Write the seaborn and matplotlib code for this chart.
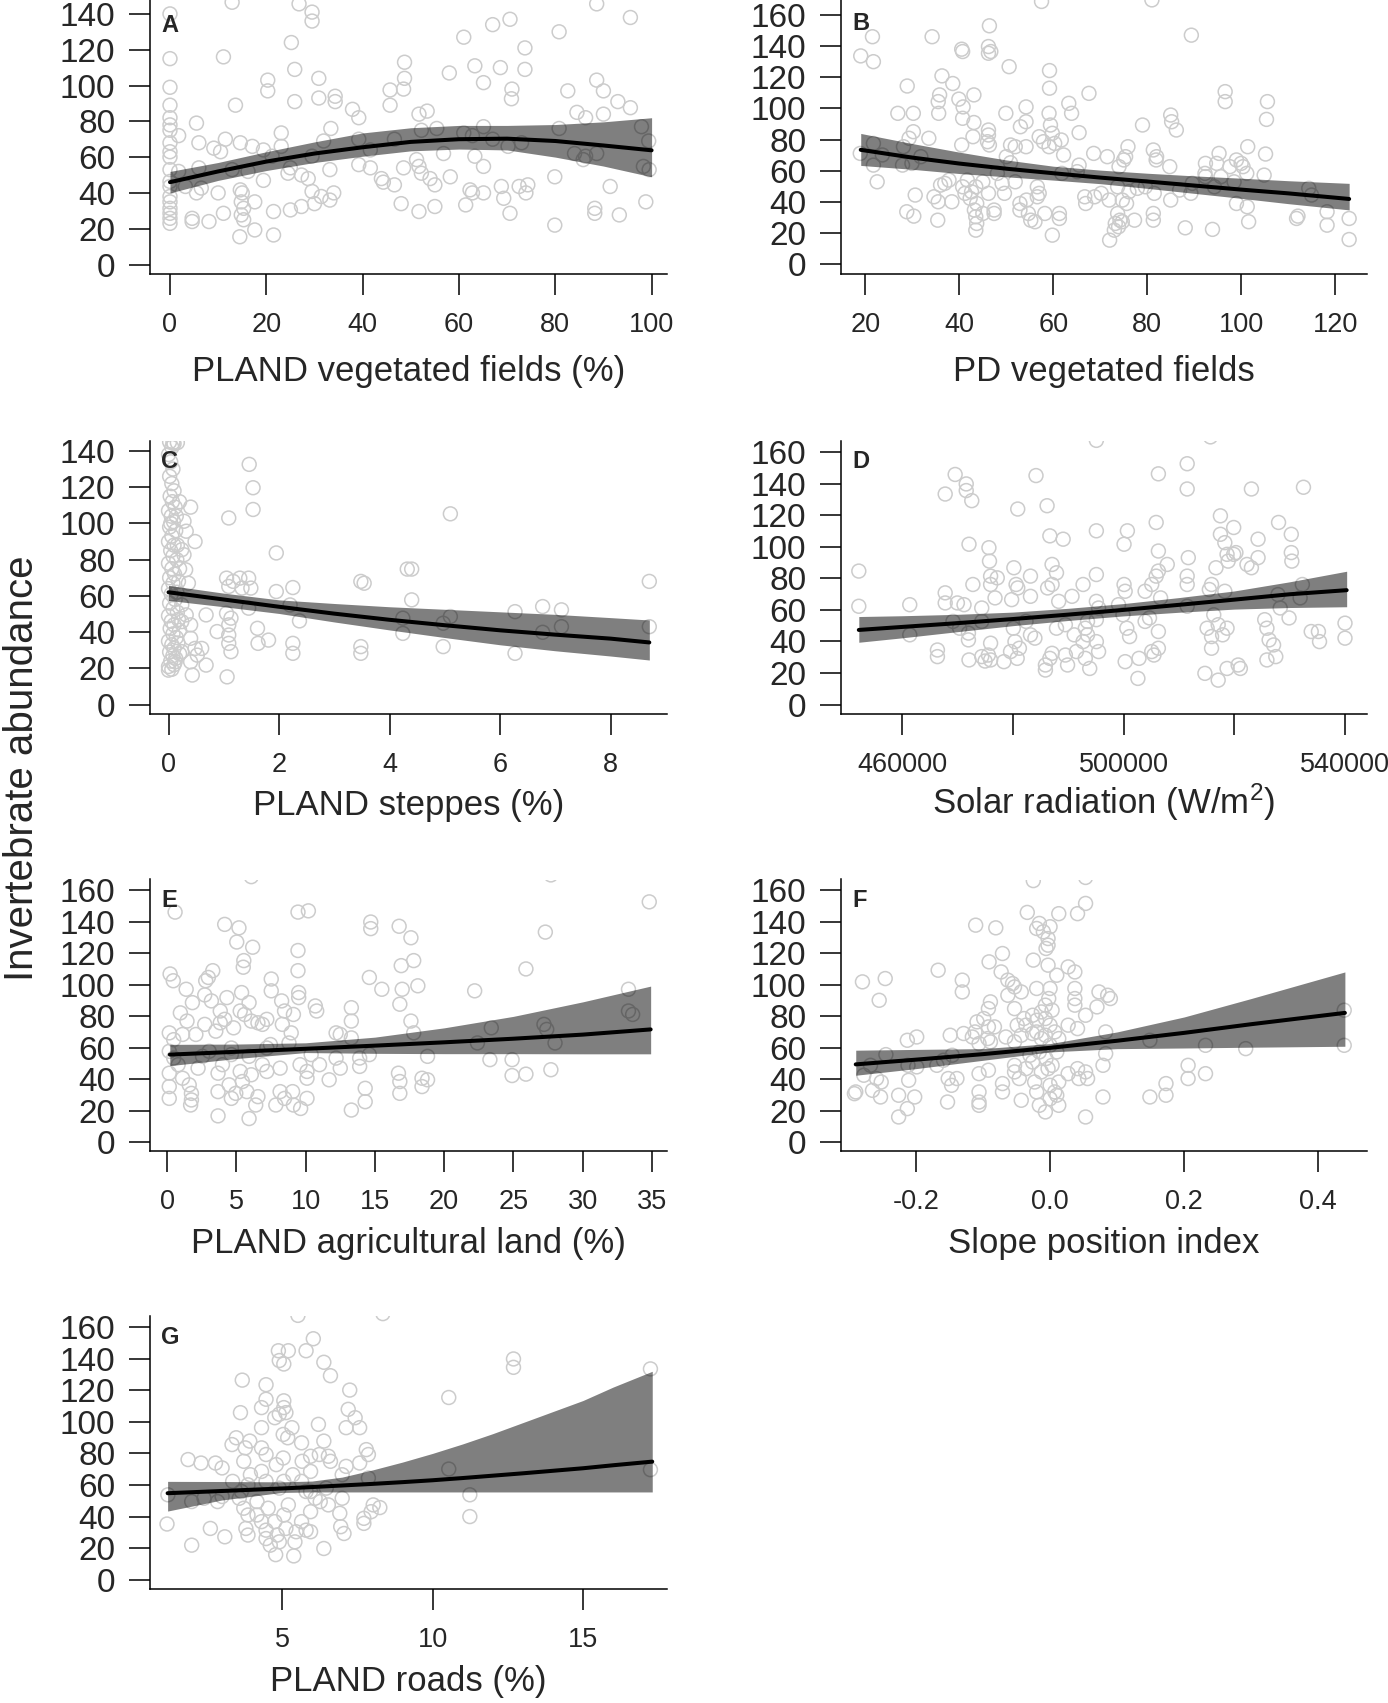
import matplotlib
matplotlib.use("Agg")
import matplotlib.pyplot as plt
import seaborn as sns

# ---------------- data ----------------
# A: PLAND vegetated fields (%)
a_pts = [(12.9,146.5),(26.8,145.6),(88.6,145.6),(0,140),(29.5,141),(29.5,136),(70.6,137),(67,134),(95.6,138),
         (80.8,130),(61,127),(25.2,124),(73.7,121),(11.1,116),(0,115),(63.3,111),(68.6,110),(73.7,109),(25.9,109),
         (48.7,113),(48.7,104),(58,107),(30.9,104),(20.3,103),(0,99),(65.1,101.6),(88.6,103),(20.3,97),(45.7,97.5),
         (48.5,98),(71,98),(70.9,92.6),(82.6,97),(90,97),(30.9,93),(34.3,94),(34.3,91),(25.9,91),(13.6,89),(0,89),
         (45.7,89),(93,91),(95.6,87.6),(37.9,86.7),(39.2,82),(51.7,84),(53.4,85.7),(84.5,85),(86.3,82),(90,84),
         (0,82),(0,78),(0,75),(5.5,79),(33.4,76),(65.1,77),(80.8,76),(97.9,77),(1.8,72),(23.1,73.5),(52.2,75),
         (55.4,76),(61,73.5),(62.8,72),(67,70),(46.6,70),(39.2,70),(31.9,69),(11.5,70),(14.6,68),(17.1,66),(6,68),
         (9.1,65),(10.5,63),(19.4,64),(23.1,66),(70.2,66),(73,68),(99.4,69),(0,68),(0,63),(0,60),(21.2,60.5),
         (29.5,60.5),(41.6,64),(51.2,58.6),(56.8,62),(63.3,60.5),(84,62),(86.3,60.5),(88.6,62),(85.8,58.6),
         (65.1,54.8),(51.7,54.8),(39.2,55.8),(41.6,54),(48.5,54),(52.2,51),(98.3,54.8),(99.5,53),(0,53),(1.8,52),
         (6,54),(12.9,53),(19.4,47),(24.5,51),(27.3,50),(28.7,48),(33.2,53),(25,54),(16.2,52),(43.9,48),(44.3,46),
         (46.6,44.5),(55,44.5),(58.2,49),(79.9,49),(54,48),(0,46.4),(0,43.6),(3.2,43.6),(6.5,42.7),(10,40),(5.5,40),
         (14.6,41.7),(29.5,40.8),(31.4,38),(34,40),(62.3,41.7),(62.8,40),(65.1,40),(68.8,43.6),(72.5,43.6),
         (74.3,44.5),(73.9,40),(91.4,43.6),(69.3,37),(0,38),(0,35),(0,31.4),(0,28.6),(0,25.8),(0,23),(15,40),
         (14.8,35),(15.3,31.4),(14.8,27.7),(15.3,25),(11.1,28.6),(17.6,35),(30,34),(27.3,32.4),(25,30.5),
         (21.5,29.6),(33.2,36),(48,34),(51.7,29.6),(55,32.4),(61.4,33.3),(70.6,28.6),(88.2,31.4),(88.2,28.6),
         (93.3,27.7),(98.8,35),(4.6,24),(8.1,24),(17.6,19.3),(14.5,15.5),(21.5,16.5),(79.9,22),(4.6,25.8)]
a_fx = [0, 10, 20, 30, 40, 50, 60, 70, 80, 90, 100]
a_fit = [46, 52, 57.5, 62, 65.5, 68.5, 70, 70.3, 69, 66.5, 63.8]
a_lo = [40, 47, 52.5, 57, 60.5, 63.5, 64.5, 64, 60, 55, 49]
a_hi = [52, 57, 63, 68.5, 73.5, 76.4, 77.7, 77.7, 78.2, 79.7, 82]

# B: PD vegetated fields
b_pts = [(57.5,168.6),(81,169.6),(19,133.7),(21.5,146),(21.7,130),(46.4,153),(34.2,146),(40.5,138),(40.7,136.5),
         (46.2,139.7),(46.7,136.5),(46.2,135.4),(50.6,126.8),(89.4,147),(36.3,120.9),(38.6,116),(28.9,114.4),
         (59.2,124.3),(59.2,113),(67.6,109.7),(35.8,108.7),(35.5,104.4),(43.1,108.7),(39.9,106),(96.6,110.8),
         (96.6,104.4),(105.6,104.4),(105.4,93),(26.9,96.9),(30.2,96.9),(35.6,96.9),(40.8,101),(40.7,93.7),
         (43.1,91),(49.9,96.9),(54.2,101),(54.2,91.5),(53,88.3),(59.1,96.9),(59.4,89.4),(63.3,103.3),(63.9,96.9),
         (65.5,84.5),(79,89.4),(85,95.8),(85.2,91.5),(86.2,86.2),(30.2,85.1),(33.5,80.9),(29.3,80.9),(46.2,86.2),
         (46.2,83),(42.9,81.9),(59.8,84.1),(57,81.9),(61.7,79.8),(57.9,78.7),(60.3,77.6),(59.1,75.5),(18.9,71.2),
         (21.7,77.6),(23.6,70.2),(21.7,63.7),(27.9,63.7),(22.5,53),(28.1,75.5),(29.9,64.8),(31.8,69.1),(40.5,76.6),
         (46,78.7),(46.4,76.6),(50.9,76.6),(51.9,75.5),(50,69.1),(50.9,65.2),(54.2,75.5),(62.2,70.2),(65.5,63.7),
         (68.6,71.2),(71.5,69.1),(74,62.7),(75.9,75.5),(75.4,69.1),(75,67),(81.3,73.4),(82,69.1),(81.9,67),
         (92.4,64.8),(95.3,71.2),(94.8,64.8),(97.6,62.7),(99,67),(100.4,62.7),(100,64.8),(101.4,75.5),(105.2,70.8),
         (104.9,57.3),(101.2,58.4),(92.4,56.3),(89.6,52),(94.3,49.8),(95.7,56.3),(98.5,53),(86.9,47.7),(89.3,45.6),
         (85,41.3),(81.5,45.6),(79.6,49.8),(77.9,48.8),(76.1,46.6),(73.7,49.8),(71.9,41.3),(74.7,41.3),(75.6,39.1),
         (73.7,32.7),(74.2,28.4),(73.2,26.3),(74.7,27.4),(73,22),(73.9,24.2),(72,15.6),(77.3,28.4),(81.3,32.7),
         (81.3,28.4),(88.1,23.5),(93.9,22.5),(101.6,27.4),(101.3,37),(99,39.1),(112.1,31),(111.8,29.5),
         (114.4,48.8),(118.3,33.8),(118.3,25.2),(123,29.5),(123,16),(30.6,44.5),(28.8,33.8),(30.3,31),(35.4,28.4),
         (34.6,43.4),(35.5,40.2),(38.4,40.2),(36,50.9),(37.8,54.1),(36.9,52),(40.7,49.8),(41.7,54.1),(42.6,46.6),
         (41.2,45.6),(43.5,49.8),(45,53),(42.3,42.4),(43.7,39.1),(43.2,34.9),(43.5,30.6),(43.7,26.3),(43.5,22),
         (45,32.7),(47.4,34.9),(47.4,32.7),(46.2,45.6),(48.1,58.4),(49.1,52),(49.6,45.6),(51.9,53),(52.9,39.1),
         (52.9,34.9),(54.3,41.3),(54.7,32.7),(55.2,28.4),(56.1,27.4),(56.6,49.8),(56.6,43.4),(57,45.6),(58.2,32.7),
         (59.8,18.8),(61.3,32.7),(61.3,29.5),(61.8,58.4),(65.1,59.5),(66.7,43.4),(66.9,39.1),(70.2,45.6),
         (68.8,43.4),(84.8,62.7),(92.3,58.4),(115,44.5)]
b_fx = [19, 30, 40, 50, 60, 70, 80, 90, 100, 110, 123]
b_fit = [73.5, 68.5, 64.7, 61.4, 58.5, 55.7, 53.2, 50.6, 48, 45.6, 42]
b_lo = [63.5, 61, 58.3, 56.2, 54.1, 51.8, 48.8, 45.6, 42.4, 39, 35]
b_hi = [84, 77.5, 72, 67, 63, 60.5, 58.5, 56.8, 55.3, 53.7, 52]

# C: PLAND steppes (%)
c_pts = [(0.02,145),(0.06,142),(0.1,144),(0.0,138),(0.04,134),(0.08,130),(0.02,126),(0.06,122),(0.1,118),
         (0.03,115),(0.07,112),(0.12,109),(0.0,107),(0.05,104),(0.09,101),(0.02,98),(0.13,96),(0.06,93),(0.0,90),
         (0.1,88),(0.04,85),(0.08,82),(0.15,80),(0.0,78),(0.06,75),(0.11,72),(0.02,70),(0.08,67),(0.0,64),
         (0.05,61),(0.12,58),(0.02,56),(0.08,53),(0.16,51),(0.0,49),(0.05,46),(0.1,44),(0.03,42),(0.08,39),
         (0.14,37),(0.0,35),(0.06,33),(0.1,31),(0.02,29),(0.08,27),(0.13,25.5),(0.04,24),(0.1,22),(0.0,21),
         (0.06,19.5),(0.18,47),(0.2,41),(0.17,34),(0.2,28),(0.15,62),(0.18,68),(0.2,75),(0.16,88),(0.04,100),
         (0.14,104),(0.2,112),(0.08,144.6),(0.16,144.6),(0.4,109),(0.28,101.2),(0.32,95.7),(0.48,90),(0.24,85.5),
         (0.28,82.7),(0.31,74.4),(0.36,67),(0.24,55),(0.32,49.5),(0.24,45.8),(0.4,44),(0.68,49.5),(0.4,36.6),
         (0.48,31),(0.6,31),(0.52,27.3),(0.4,23.6),(0.43,16.3),(0.68,21.8),(0.12,23.6),(0,19),(0.24,29.2),
         (0.88,40.3),(1.09,44),(1.13,47.7),(1.05,50.4),(1.09,38.4),(1.09,33.8),(1.13,29.2),(1.06,15.3),(1.09,103),
         (1.05,69.8),(1.09,65.2),(1.29,69.8),(1.17,68),(1.33,64.3),(1.45,69.8),(1.49,64.3),(1.46,132.6),
         (1.53,119.7),(1.53,107.7),(1.45,53.2),(1.61,42.1),(1.62,33.8),(1.81,35.6),(1.95,83.7),(1.95,62.4),
         (2.25,64.6),(2.2,55),(2.25,33.8),(2.25,28.3),(2.37,46.2),(3.48,68),(3.54,67),(3.48,32),(3.48,28.3),
         (4.32,74.8),(4.4,74.8),(4.4,57.8),(4.24,47.7),(4.24,39.3),(4.97,44.9),(5.1,48.6),(5.1,105.3),(4.97,32),
         (6.27,51.3),(6.27,28.3),(6.77,54.1),(6.77,39.9),(7.11,52.3),(7.11,43),(8.7,68),(8.7,43)]
c_fx = [0, 1, 2, 3, 4, 5, 6, 7, 8, 8.7]
c_fit = [62, 58, 54, 50.2, 46.8, 43.8, 41, 38.6, 36.4, 34.3]
c_lo = [57.5, 54, 50.3, 45.6, 41.2, 37, 33, 29.7, 26.8, 24.6]
c_hi = [65.8, 61.5, 57.8, 55.8, 54, 52.6, 51.2, 49.8, 48, 46.7]

# D: Solar radiation (W/m2)
d_pts = [(495100,167.4),(515700,169.6),(452200,84.6),(452200,62.3),(461400,63.3),(461400,44.2),(466400,34.6),
         (466400,30.4),(467800,70.8),(467800,64.4),(467800,133.4),(469600,145.8),(471600,139.8),(471600,135.6),
         (472600,129.2),(472100,101.6),(470000,64.4),(471200,63.3),(469200,52.7),(470400,48.4),(472000,45.3),
         (472000,41),(472100,28.3),(472800,76.1),(474400,61.2),(474400,52.7),(475700,99.4),(475800,90.9),
         (476000,81.4),(476000,76.1),(477200,80.3),(476800,67.6),(476000,38.9),(475600,31.4),(474400,30.4),
         (475000,27.6),(476000,28.3),(478400,27.2),(480200,86.7),(480600,76.1),(480900,73.9),(479800,66.5),
         (480100,48.4),(480400,39.9),(481200,35.7),(479600,33.6),(480800,29.3),(480900,123.9),(483200,81.4),
         (483200,68.6),(482400,52.7),(483200,44.2),(484000,42.1),(484200,145.1),(485900,25.1),(485900,21.9),
         (486700,29.3),(486200,126),(486700,106.9),(489100,104.8),(487100,88.8),(487900,83.5),(486300,73.9),
         (487100,76.1),(488300,65.4),(487900,48.4),(489500,50.6),(487100,32.5),(489500,31.4),(489900,25.1),
         (490700,68.6),(491100,44.2),(491500,33.6),(492700,76.1),(493100,48.4),(493500,44.2),(492700,39.9),
         (493100,29.3),(493900,22.9),(493500,52.7),(495100,110.1),(495100,82.4),(495100,65.4),(495500,61.2),
         (495100,53.8),(495100,39.9),(495500,33.6),(499100,63.3),(500100,76.1),(500300,71.8),(499900,56.9),
         (500600,48.4),(501100,43.1),(500300,27.2),(500700,110.1),(500100,101.6),(502800,29.3),(502600,16.6),
         (503900,71.8),(503900,52.7),(504700,54.9),(505100,33.6),(505500,31.4),(506300,35.7),(505100,76.1),
         (505900,81.4),(506300,84.6),(505900,115.4),(506300,146.2),(506300,97.3),(506300,46.3),(506700,67.6),
         (507900,88.8),(511500,152.6),(511500,136.6),(511700,93.1),(511500,81.4),(511500,76.1),(511500,62.3),
         (514700,19.8),(515100,48.4),(515900,43.1),(515900,35.7),(515500,72.9),(515900,76.1),(516700,86.7),
         (516300,56.9),(517100,15.5),(517500,119.6),(517500,107.9),(518300,102.6),(518700,95.2),(518900,90.9),
         (519900,95.2),(519900,112.2),(520300,96.3),(518300,71.8),(517100,50.6),(517900,44.2),(518700,48.4),
         (518700,22.9),(520700,25.1),(521100,22.9),(522300,88.8),(523100,86.7),(523100,136.6),(524300,104.8),
         (524300,93.1),(525500,53.8),(525900,48.4),(526300,41),(527100,37.8),(525900,28.3),(527500,30.4),
         (528000,115.4),(527900,69.7),(529900,54.9),(530300,107.9),(530300,96.3),(530400,90.9),(531900,67.6),
         (532300,76.1),(532500,137.7),(533900,46.3),(535200,46.3),(535400,39.9),(540000,51.6),(540000,42.1),
         (528300,61.2)]
d_fx = [452200, 460000, 470000, 480000, 490000, 500000, 510000, 520000, 530000, 540300]
d_fit = [47.3, 49.2, 51.6, 54.2, 57, 60, 63.2, 66.5, 69.9, 72.5]
d_lo = [39.5, 42.3, 46.2, 50, 53.3, 56.2, 58.5, 60.5, 61.5, 62]
d_hi = [55.8, 56.3, 57.2, 58.6, 61, 64, 67.8, 72, 77.8, 84.5]

# E: PLAND agricultural land (%)
e_pts = [(6.08,168.5),(27.7,169.6),(0.58,146),(9.45,146),(10.2,146.8),(34.8,152.5),(4.16,138.2),(5.19,136),
         (5.03,127),(6.18,123.7),(5.54,115.2),(5.5,111),(9.45,121.6),(9.45,108.8),(14.7,139.7),(14.7,135.5),
         (16.75,137),(17.6,129.7),(27.3,133.3),(16.9,112),(17.8,115.2),(14.6,104.5),(15.5,97),(16.97,97),
         (18.1,99.2),(22.2,96),(25.9,109.9),(33.3,97),(33.3,83.2),(33.6,81),(0.22,106.7),(0.45,102.4),(1.38,97),
         (1.83,88.5),(0.96,82),(1.44,76.8),(1.12,68.3),(0.16,69.3),(0.48,65),(2.08,68.3),(2.79,102.4),(3.3,108.8),
         (2.98,104.5),(2.72,93.4),(3.2,89.6),(3.84,83.2),(4.32,91.7),(5.38,94.9),(5.92,88.5),(3.52,70.4),
         (2.72,74.7),(3.84,75.7),(4.16,77.9),(4.8,72.5),(5.28,83.2),(5.6,81),(6.08,76.8),(6.56,75.7),(6.88,74.7),
         (7.2,77.9),(7.52,103.5),(7.52,96),(8.27,89.6),(8.48,83.2),(9.12,81),(8.32,74.7),(8.96,69.3),(9.5,94.9),
         (9.5,91.7),(10.7,86.4),(10.8,83.2),(12.2,69.3),(12.5,68.3),(13.3,85.3),(13.3,76.8),(13.3,66.1),
         (16.8,87.5),(17.6,76.8),(17.8,69.3),(23.4,72.5),(27.2,74.7),(27.4,71.5),(28,62.9),(22.4,62.9),
         (0.16,57.6),(0.48,53.3),(0.8,49.1),(0.16,43.7),(0.16,35.2),(0.16,27.7),(1.12,40.5),(1.6,36.3),
         (1.76,30.9),(1.7,23.5),(1.76,26.7),(2.24,46.9),(2.56,54.4),(3.04,57.6),(3.68,43.7),(3.68,32),(3.68,16.6),
         (4,49.1),(4.64,59.7),(4.48,36.3),(4.64,27.7),(4.96,30.9),(5.28,44.8),(5.44,38.4),(5.76,32),(5.92,14.9),
         (6.08,42.7),(6.4,23.5),(6.56,28.8),(6.88,49.1),(7.2,44.8),(7.46,61.9),(7.85,23.5),(8.16,46.9),(8.16,32),
         (8.48,27.7),(9.06,32),(9.12,23.5),(9.64,21.3),(9.6,49.1),(10.1,40.5),(10.1,27.7),(10.1,44.8),(11,49.1),
         (11.7,39.5),(12.2,53.3),(12.5,46.9),(13.3,20.3),(13.9,53.3),(13.9,48),(14.3,34.1),(14.3,25.6),
         (14.6,55.5),(16.7,43.7),(16.8,38.4),(16.8,30.9),(18.4,40.5),(18.8,54.4),(18.8,39.5),(18.4,35.2),
         (23.3,52.3),(24.9,52.3),(24.9,42.2),(25.9,43.1),(27.7,45.9),(5.92,54.4),(4.64,55.5),(7.2,59.7),
         (8.8,62.9),(10.4,55.5)]
e_fx = [0.2, 5, 10, 15, 20, 25, 30, 34.9]
e_fit = [55.5, 57.3, 59.2, 61.2, 63.3, 65.6, 68.2, 71.5]
e_lo = [48.5, 53, 56.8, 56.3, 56.1, 56.1, 56, 56]
e_hi = [62, 62.2, 63, 66.6, 72.5, 79.8, 89, 99]

# F: Slope position index
f_pts = [(-0.025,166),(0.053,168),(0.053,151.5),(0.041,145),(0.013,145),(-0.034,145.8),(-0.111,137.7),
         (-0.081,136),(-0.016,138.8),(-0.02,135.6),(0,136.7),(-0.01,133.5),(-0.003,129.2),(-0.003,125),
         (-0.006,122.9),(-0.071,119.7),(-0.091,114.4),(-0.025,115.5),(-0.003,112.3),(0.027,111.2),(0.037,108),
         (0.01,105.9),(-0.167,109.1),(-0.28,101.7),(-0.246,103.8),(-0.255,90),(-0.131,102.8),(-0.131,95.3),
         (-0.073,108),(-0.063,102.8),(-0.056,100.6),(-0.053,98.5),(-0.043,95.3),(-0.063,93.2),(-0.089,89),
         (-0.092,84.7),(-0.099,78.4),(-0.109,76.3),(-0.112,69.9),(-0.092,73.1),(-0.02,97.5),(0,97.5),(-0.002,91.1),
         (-0.007,86.9),(0.003,83.7),(0.037,97.5),(0.037,91.1),(0.037,86.9),(0.053,80.5),(0.073,95.3),(0.086,93.2),
         (0.09,91.1),(0.07,85.8),(-0.053,84.7),(-0.039,78.4),(-0.049,74.2),(-0.036,74.2),(-0.026,80.5),
         (-0.02,77.3),(-0.013,82.6),(-0.007,78.4),(0,74.2),(0.007,69.9),(-0.007,67.8),(-0.013,65.7),(0,61.4),
         (0.013,65.7),(-0.02,69.9),(-0.026,68.9),(-0.043,67.8),(-0.053,63.6),(-0.066,66.7),(-0.083,73.1),
         (-0.093,65.7),(-0.129,68.9),(-0.149,67.8),(-0.116,66.7),(-0.106,62.5),(-0.089,63.6),(-0.199,66.7),
         (-0.213,64.6),(-0.245,55.5),(-0.268,48.7),(-0.278,42.4),(-0.259,40.3),(-0.252,38.1),(-0.292,30.7),
         (-0.29,31.8),(-0.265,32.8),(-0.253,28.6),(-0.226,29.7),(-0.213,21.2),(-0.226,15.9),(-0.202,28.6),
         (-0.211,39.2),(-0.212,48.7),(-0.199,47.7),(-0.169,48.7),(-0.152,40.3),(-0.147,36),(-0.139,40.3),
         (-0.153,25.4),(-0.106,31.8),(-0.106,25.4),(-0.106,23.3),(-0.106,43.4),(-0.092,45.6),(-0.071,37.1),
         (-0.071,31.8),(-0.053,44.5),(-0.046,40.3),(-0.043,26.5),(-0.053,48.7),(-0.036,46.6),(-0.03,55.1),
         (-0.026,50.8),(-0.016,57.2),(-0.006,53),(-0.003,46.6),(0.003,48.7),(0.01,57.2),(-0.013,44.5),(-0.02,31.8),
         (-0.016,23.3),(-0.007,19.1),(0,27.5),(0.007,31.8),(0.013,23.3),(0.01,29.7),(-0.023,38.1),(0,36),
         (0.013,38.1),(0.027,43.4),(0.041,46.6),(0.053,44.5),(0.043,40.3),(0.056,40.3),(0.053,15.9),(0.079,28.6),
         (0.079,48.7),(0.083,56.1),(0.083,69.9),(0.149,64.6),(0.149,28.6),(0.173,37.1),(0.173,29.7),(0.206,48.7),
         (0.206,40.3),(0.232,61.4),(0.232,43.4),(0.292,59.3),(0.439,83.7),(0.439,61.4),(0.027,74.2),(0.041,72),
         (-0.146,55.1),(-0.159,51.9)]
f_fx = [-0.29, -0.2, -0.1, 0, 0.1, 0.2, 0.3, 0.44]
f_fit = [49.3, 52.3, 55.8, 59.8, 64.3, 69.3, 74.8, 82]
f_lo = [42.4, 46.6, 51.9, 57.2, 59.3, 59.7, 60.2, 60.8]
f_hi = [58.3, 58.8, 59.3, 62.5, 69.9, 79.4, 91.1, 108]

# G: PLAND roads (%)
g_pts = [(5.53,167.4),(8.35,168.5),(6.04,152.6),(5.8,145),(4.88,145),(5.21,145),(4.91,138.8),(5.06,136.6),
         (6.39,137.7),(6.61,129.2),(12.69,139.8),(12.69,134.5),(17.24,133.5),(3.68,126.4),(4.47,123.5),
         (7.25,120.1),(10.54,115.4),(4.47,114.3),(4.32,109),(5.06,113.3),(5.06,109),(4.91,104.8),(5.13,105.8),
         (4.76,102.6),(3.62,105.8),(7.2,107.9),(7.43,102.6),(7.58,96.3),(7.13,96.3),(6.21,98.4),(4.32,96.3),
         (5.33,96.3),(5.04,92),(5.19,89.9),(3.93,87.8),(3.48,89.9),(3.34,85.6),(3.78,83.5),(4.32,83.5),(4.47,79.3),
         (3.73,75),(1.88,76.1),(2.31,73.9),(5.65,86.7),(5.95,78.2),(6.39,87.8),(6.54,78.2),(7.8,82.4),(7.87,79.3),
         (7.13,71.8),(7.58,73.9),(7.87,64.4),(7.0,66.5),(6.61,75),(6.24,79.3),(5.67,75),(5.04,77.1),(4.81,72.9),
         (4.32,68.6),(3.95,66.5),(3.36,62.3),(3.87,60.1),(3.65,55.9),(4.47,62.3),(4.91,58),(5.36,66.5),
         (5.65,62.3),(5.95,55.9),(6.1,51.6),(6.47,58),(6.54,47.4),(7.0,51.6),(6.92,42.1),(1.21,53.8),(1.18,35.3),
         (2.0,49.5),(2.41,51.6),(2.86,49.5),(3.01,52.7),(2.62,32.5),(3.1,27.2),(2.0,21.9),(3.58,51.6),(3.73,45.3),
         (3.87,41),(3.8,32.5),(3.87,28.3),(4.17,41),(4.32,36.8),(4.47,31.4),(4.47,26.1),(4.61,21.9),(4.76,36.8),
         (4.84,28.3),(4.91,24),(5.06,41),(5.13,32.5),(5.21,47.4),(4.79,15.9),(5.39,15.1),(5.43,24),(5.47,30.4),
         (5.65,36.8),(5.8,31.4),(5.95,30.4),(5.95,43.1),(6.39,19.8),(6.27,49.5),(6.95,33.6),(7.06,29.3),
         (7.72,38.9),(7.72,35.7),(8.03,47.4),(8.25,45.7),(7.96,43.1),(11.24,53.8),(11.24,40),(10.54,70.1),
         (17.24,69.7),(4.17,49.5),(4.54,45.3),(5.8,55.9),(5.06,62.3),(5.95,68.6),(2.79,73.9),(3.01,70.8)]
g_fx = [1.2, 3, 5, 6, 7, 8, 9, 10, 11, 12, 13, 14, 15, 16, 17.3]
g_fit = [54.8, 56.2, 57.8, 58.7, 59.7, 60.7, 61.8, 63, 64.4, 65.9, 67.4, 69, 70.6, 72.5, 74.8]
g_lo = [43.5, 50.5, 55.3, 55.6, 55.6, 55.6, 55.6, 55.6, 55.6, 55.6, 55.6, 55.6, 55.6, 55.6, 55.6]
g_hi = [62.3, 62.2, 62, 62.5, 65, 69.5, 74.5, 80, 86, 92.5, 99.5, 106.5, 113.5, 122, 132]

y_label = "Invertebrate abundance"

# ---------------- style ----------------
sns.set_style("ticks")
plt.rcParams["font.family"] = ["Liberation Sans", "DejaVu Sans"]
plt.rcParams["mathtext.fontset"] = "custom"
plt.rcParams["mathtext.rm"] = "Liberation Sans"
plt.rcParams["mathtext.it"] = "Liberation Sans:italic"

W, H = 1388, 1703
fig = plt.figure(figsize=(W / 100, H / 100), dpi=100)


def panel(box, pts, fx, fit, lo, hi, xlim, ylim, xticks, xticklabels, yticks,
          xlabel, letter, label_y, letter_dy):
    left, right, top, bottom = box
    ax = fig.add_axes([left / W, 1 - bottom / H, (right - left) / W, (bottom - top) / H])
    xs = [p[0] for p in pts]
    ys = [p[1] for p in pts]
    sns.scatterplot(x=xs, y=ys, ax=ax, s=100, marker="o", facecolors="none",
                    edgecolor="#cccccc", linewidth=1.1, zorder=1)
    ax.fill_between(fx, lo, hi, color="black", alpha=0.5, linewidth=0, zorder=2)
    sns.lineplot(x=fx, y=fit, ax=ax, color="black", linewidth=2.9,
                 estimator=None, sort=False, zorder=3)
    ax.set_xlim(xlim)
    ax.set_ylim(ylim)
    ax.set_xticks(xticks)
    ax.set_xticklabels(xticklabels)
    ax.set_yticks(yticks)
    ax.set_yticklabels([str(v) for v in yticks])
    sns.despine(ax=ax)
    for s in ("left", "bottom"):
        ax.spines[s].set_linewidth(1.1)
        ax.spines[s].set_color("black")
    ax.tick_params(axis="x", length=15, width=1.1, pad=12, labelsize=19.5, color="black")
    ax.tick_params(axis="y", length=15, width=1.1, pad=10, labelsize=24, color="black")
    ax.set_xlabel(xlabel, fontsize=25)
    ax.set_ylabel("")
    ax.xaxis.set_label_coords(0.5, -(label_y - bottom) / (bottom - top))
    ax.xaxis.label.set_va("center")
    ax.annotate(letter, xy=(0, 1), xycoords="axes fraction", xytext=(11, -letter_dy),
                textcoords="offset pixels", ha="left", va="center",
                fontsize=17, fontweight="bold")
    return ax


y140 = list(range(0, 141, 20))
y160 = list(range(0, 161, 20))

panel((150, 667, -4, 274), a_pts, a_fx, a_fit, a_lo, a_hi, (-4.15, 103.2), (-5.3, 150),
      [0, 20, 40, 60, 80, 100], ["0", "20", "40", "60", "80", "100"], y140,
      "PLAND vegetated fields (%)", "A", 372, 29)
panel((841, 1367, -4, 274), b_pts, b_fx, b_fit, b_lo, b_hi, (14.8, 126.8), (-6.1, 172.1),
      [20, 40, 60, 80, 100, 120], ["20", "40", "60", "80", "100", "120"], y160,
      "PD vegetated fields", "B", 372, 28)
panel((150, 667, 441, 714), c_pts, c_fx, c_fit, c_lo, c_hi, (-0.335, 9.02), (-5.2, 145.5),
      [0, 2, 4, 6, 8], ["0", "2", "4", "6", "8"], y140,
      "PLAND steppes (%)", "C", 805, 21)
panel((841, 1367, 441, 714), d_pts, d_fx, d_fit, d_lo, d_hi, (448984, 543973), (-5.95, 167),
      [460000, 480000, 500000, 520000, 540000], ["460000", "", "500000", "", "540000"], y160,
      "Solar radiation (W/m$^2$)", "D", 802, 21)
panel((150, 667, 879.5, 1151.3), e_pts, e_fx, e_fit, e_lo, e_hi, (-1.23, 36.08), (-5.9, 166.7),
      [0, 5, 10, 15, 20, 25, 30, 35], ["0", "5", "10", "15", "20", "25", "30", "35"], y160,
      "PLAND agricultural land (%)", "E", 1243, 21)
panel((841, 1367, 879.5, 1151.3), f_pts, f_fx, f_fit, f_lo, f_hi, (-0.312, 0.473), (-5.9, 166.7),
      [-0.2, 0.0, 0.2, 0.4], ["-0.2", "0.0", "0.2", "0.4"], y160,
      "Slope position index", "F", 1243, 21)
panel((150, 667, 1316, 1589.4), g_pts, g_fx, g_fit, g_lo, g_hi, (0.615, 17.79), (-6.1, 167),
      [5, 10, 15], ["5", "10", "15"], y160,
      "PLAND roads (%)", "G", 1681, 21)

fig.text(22 / W, 1 - 768 / H, y_label, rotation=90, ha="center", va="center", fontsize=29)

fig.savefig("out.png", dpi=100)
